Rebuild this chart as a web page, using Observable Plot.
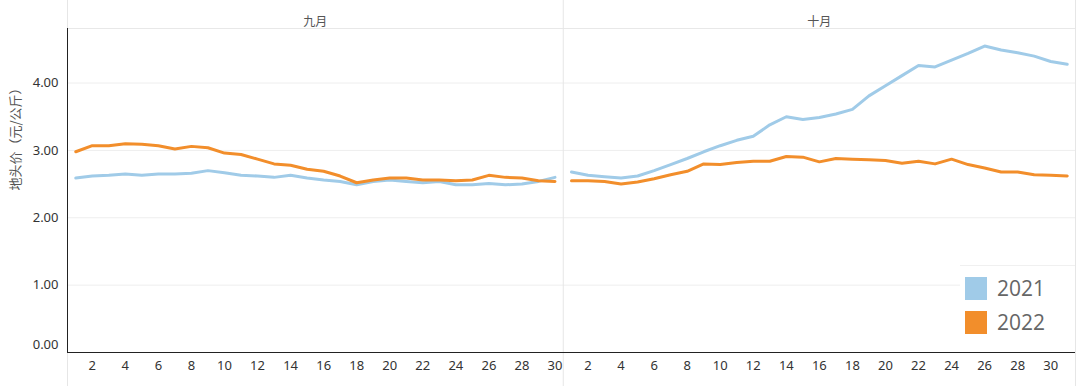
<!DOCTYPE html>
<html>
<head>
<meta charset="utf-8">
<script src="https://cdn.jsdelivr.net/npm/d3@7"></script>
<script src="https://cdn.jsdelivr.net/npm/@observablehq/plot@0.6"></script>
<style>
  html, body { margin: 0; padding: 0; background: #fff; }
  #wrap { position: relative; width: 1080px; height: 386px; font-family: "Noto Sans", "Noto Sans CJK SC", sans-serif; }
  #legend { position: absolute; left: 960px; top: 265px; width: 115px; height: 80px; background: #fff; border-top: 1px solid #f0f0f0; }
  .item { position: absolute; left: 5px; display: flex; align-items: center; }
  .sw { width: 22px; height: 23px; margin-right: 10px; }
  .lab { font-size: 21px; color: #666; font-family: "Open Sans", "Noto Sans", sans-serif; }
</style>
</head>
<body>
<div id="wrap"></div>
<script>
// months (facet headers) and days
const months = ["九月", "十月"];
const monthDays = [30, 31];
const years = ["2021", "2022"];
const colors = ["#a0cbe8", "#f28e2b"];

// 地头价（元/公斤）
const sep2021 = [2.59,2.62,2.63,2.65,2.63,2.65,2.65,2.66,2.70,2.67,2.63,2.62,2.60,2.63,2.59,2.56,2.54,2.49,2.54,2.56,2.54,2.52,2.54,2.49,2.49,2.51,2.49,2.50,2.54,2.60];
const sep2022 = [2.98,3.07,3.07,3.10,3.09,3.07,3.02,3.06,3.04,2.96,2.94,2.87,2.80,2.78,2.72,2.69,2.62,2.52,2.56,2.59,2.59,2.56,2.56,2.55,2.56,2.63,2.60,2.59,2.55,2.54];
const oct2021 = [2.68,2.63,2.61,2.59,2.62,2.70,2.79,2.88,2.98,3.07,3.15,3.21,3.38,3.50,3.46,3.49,3.54,3.61,3.81,3.96,4.11,4.26,4.24,4.34,4.44,4.55,4.49,4.45,4.40,4.32,4.28];
const oct2022 = [2.55,2.55,2.54,2.50,2.53,2.58,2.64,2.69,2.80,2.79,2.82,2.84,2.84,2.91,2.90,2.83,2.88,2.87,2.86,2.85,2.81,2.84,2.80,2.87,2.79,2.74,2.68,2.68,2.64,2.63,2.62];

const yTicks = [0, 1, 2, 3, 4];
const xTickDays = [2,4,6,8,10,12,14,16,18,20,22,24,26,28,30];
const yLabel = "地头价（元/公斤）";

// build table: continuous index across both months
const series = [[sep2021, sep2022], [oct2021, oct2022]];
const data = [];
series.forEach((pair, m) => {
  pair.forEach((vals, yi) => {
    vals.forEach((v, i) => {
      data.push({month: months[m], year: years[yi], idx: (m === 0 ? 0 : monthDays[0]) + i + 1, day: i + 1, value: v});
    });
  });
});
const xMax = monthDays[0] + monthDays[1] + 0.5;
const yMax = 4.81;
const xTicks = xTickDays.concat(xTickDays.map(d => d + monthDays[0]));
const bounds = [0.5, monthDays[0] + 0.5, xMax];
const headers = months.map((m, i) => ({label: m, x: i === 0 ? (monthDays[0] + 1) / 2 : monthDays[0] + (monthDays[1] + 1) / 2}));

const chart = Plot.plot({
  width: 1080,
  height: 386,
  marginLeft: 67,
  marginRight: 5,
  marginTop: 28,
  marginBottom: 34,
  style: {fontFamily: "'Noto Sans', 'Noto Sans CJK SC', sans-serif", background: "#fff"},
  x: {domain: [0.5, xMax], axis: null},
  y: {domain: [0, yMax], axis: null},
  color: {domain: years, range: colors},
  marks: [
    Plot.ruleY(yTicks.filter(d => d > 0), {stroke: "#eeeeee"}),
    Plot.ruleY([yMax], {stroke: "#e8e8e8"}),
    Plot.ruleX(bounds, {stroke: "#e6e6e6", insetTop: -28, insetBottom: -34}),
    Plot.line(data, {x: "idx", y: "value", z: d => d.year + d.month, stroke: "year", strokeWidth: 3, curve: "linear"}),
    Plot.ruleX([0.5], {stroke: "#222", strokeWidth: 1}),
    Plot.ruleY([0], {stroke: "#222", strokeWidth: 1}),
    Plot.axisY(yTicks.filter(d => d > 0), {tickSize: 0, tickPadding: 9, tickFormat: d3.format(".2f"), fontSize: 13, fill: "#333", label: null}),
    Plot.axisY([0], {tickSize: 0, tickPadding: 9, tickFormat: d3.format(".2f"), fontSize: 13, fill: "#333", label: null, dy: -8}),
    Plot.axisX(xTicks, {tickSize: 0, tickPadding: 8, tickFormat: d => d > monthDays[0] ? d - monthDays[0] : d, fontSize: 13, fill: "#333", label: null}),
    Plot.text(headers, {x: "x", text: "label", frameAnchor: "top", dy: -11, fontSize: 12, fill: "#555", fontFamily: "'Noto Sans CJK SC', sans-serif"}),
    Plot.text([yLabel], {frameAnchor: "left", rotate: -90, dx: -52, fontSize: 13, fill: "#555", fontFamily: "'Noto Sans CJK SC', sans-serif"})
  ]
});

const wrap = document.getElementById("wrap");
wrap.appendChild(chart);
const legend = document.createElement("div");
legend.id = "legend";
years.forEach((y, i) => {
  const it = document.createElement("div");
  it.className = "item";
  it.style.top = (8 + i * 34) + "px";
  it.innerHTML = `<div class="sw" style="background:${colors[i]}"></div><div class="lab">${y}</div>`;
  legend.appendChild(it);
});
wrap.appendChild(legend);
</script>
</body>
</html>
